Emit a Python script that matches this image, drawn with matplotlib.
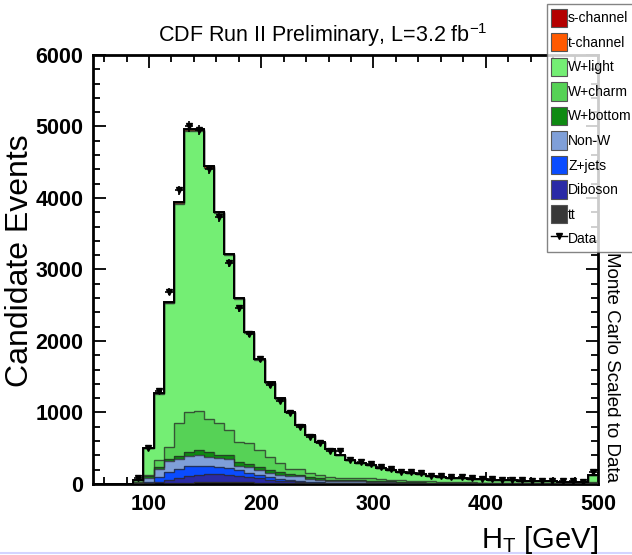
import numpy as np
import matplotlib
matplotlib.use("Agg")
import matplotlib.pyplot as plt
from matplotlib.patches import Patch
from matplotlib.lines import Line2D

plt.rcParams["font.family"] = ["Liberation Sans", "DejaVu Sans"]

# 50 bins of 9 GeV from 50 to 500 GeV
bin_edges = np.arange(50, 501, 9)

tt = [0, 0, 0, 0, 0, 2, 5, 10, 15, 20, 25, 25, 25, 25, 25, 22, 20, 18, 15, 12,
      10, 8, 7, 5, 5, 4, 4, 3, 3, 3, 2, 2, 2, 2, 2, 1, 1, 1, 1, 1,
      1, 1, 1, 1, 1, 1, 1, 1, 1, 3]
diboson = [0, 0, 0, 0, 2, 8, 25, 50, 75, 90, 105, 115, 115, 105, 90, 73, 60, 42, 30, 23,
           15, 12, 8, 7, 5, 5, 4, 4, 3, 2, 3, 2, 2, 1, 1, 2, 2, 1, 1, 1,
           0, 0, 0, 0, 0, 0, 0, 0, 0, 0]
zjets = [0, 0, 0, 0, 3, 20, 70, 105, 125, 135, 125, 110, 100, 90, 75, 65, 50, 40, 30, 20,
         15, 10, 10, 8, 7, 6, 5, 4, 4, 4, 3, 3, 2, 2, 2, 1, 1, 1, 1, 1,
         1, 1, 1, 1, 0, 0, 0, 0, 0, 2]
non_w = [0, 0, 0, 0, 10, 60, 105, 155, 135, 145, 150, 130, 120, 125, 65, 75, 70, 55, 55, 50,
         70, 45, 35, 25, 23, 23, 22, 19, 16, 13, 12, 10, 9, 8, 6, 6, 5, 5, 4, 3,
         3, 3, 2, 2, 2, 2, 2, 2, 1, 5]
w_bottom = [0, 0, 0, 0, 5, 20, 35, 30, 45, 50, 65, 60, 50, 55, 55, 45, 40, 45, 40, 35,
            20, 25, 20, 15, 15, 12, 15, 15, 14, 13, 10, 9, 7, 7, 7, 6, 5, 4, 4, 4,
            4, 3, 3, 2, 3, 2, 2, 1, 2, 5]
w_charm = [0, 0, 0, 0, 10, 20, 96, 172, 454, 570, 555, 465, 439, 355, 282, 288, 236, 173, 119, 65,
           75, 50, 40, 35, 35, 35, 40, 40, 30, 25, 20, 19, 18, 15, 12, 12, 11, 10, 9, 8,
           7, 6, 6, 6, 5, 5, 4, 4, 3, 15]
w_light = [0, 0, 0, 0, 30, 368, 927, 2004, 3070, 3922, 3907, 3517, 2936, 2444, 1991, 1548, 1258, 1038, 904, 799,
           616, 531, 469, 392, 318, 254, 209, 182, 159, 136, 118, 105, 95, 83, 72, 62, 55, 50, 45, 40,
           38, 36, 32, 30, 27, 25, 23, 22, 21, 100]
t_channel = [0, 0, 0, 0, 0, 2, 5, 10, 15, 20, 20, 20, 18, 15, 12, 10, 8, 6, 5, 4,
             3, 3, 2, 2, 2, 1, 1, 1, 1, 0, 0, 0, 0, 0, 0, 0, 0, 0, 0, 0,
             0, 0, 0, 0, 0, 0, 0, 0, 0, 0]
s_channel = [0, 0, 0, 0, 0, 0, 2, 4, 6, 8, 8, 8, 7, 6, 5, 4, 3, 3, 2, 2,
             1, 1, 1, 1, 0, 0, 0, 0, 0, 0, 0, 0, 0, 0, 0, 0, 0, 0, 0, 0,
             0, 0, 0, 0, 0, 0, 0, 0, 0, 0]

data = [0, 0, 0, 0, 90, 500, 1300, 2690, 4110, 5000, 4950, 4400, 3730, 3090, 2460, 2100, 1750, 1385, 1165, 990,
        790, 660, 570, 462, 455, 330, 303, 280, 233, 205, 163, 163, 150, 117, 117, 93, 93, 80, 75, 70,
        60, 55, 50, 45, 40, 40, 35, 35, 30, 170]

# stacking order, bottom to top
stack = [
    ("tt", tt, "#383838"),
    ("Diboson", diboson, "#2b2ba6"),
    ("Z+jets", zjets, "#0a4cff"),
    ("Non-W", non_w, "#7f9fd8"),
    ("W+bottom", w_bottom, "#0e8a12"),
    ("W+charm", w_charm, "#56d256"),
    ("W+light", w_light, "#74ee74"),
    ("t-channel", t_channel, "#ff5a00"),
    ("s-channel", s_channel, "#b40000"),
]
legend_order = ["s-channel", "t-channel", "W+light", "W+charm", "W+bottom",
                "Non-W", "Z+jets", "Diboson", "tt"]

fig = plt.figure(figsize=(6.32, 5.55), dpi=100)
ax = fig.add_axes([0.147, 0.128, 0.799, 0.773])

bottom = np.zeros(len(bin_edges) - 1)
for name, vals, color in stack:
    vals = np.asarray(vals, dtype=float)
    top = bottom + vals
    ax.stairs(top, bin_edges, baseline=bottom, fill=True, color=color, lw=0, zorder=2)
    ax.stairs(top, bin_edges, baseline=None, color="#2a2a2a", lw=1.0, alpha=0.75, zorder=3)
    bottom = top
ax.stairs(bottom, bin_edges, baseline=None, color="black", lw=1.4, zorder=4)

# data points
data = np.asarray(data, dtype=float)
centers = 0.5 * (bin_edges[:-1] + bin_edges[1:])
mask = data > 0
ax.errorbar(centers[mask], data[mask], yerr=np.sqrt(data[mask]), xerr=3.5,
            fmt="v", color="black", ms=5, elinewidth=1.2, capsize=0, zorder=5)

ax.set_xlim(50, 500)
ax.set_ylim(0, 6000)
ax.set_xticks([100, 200, 300, 400, 500])
ax.set_xticks(np.arange(60, 500, 20), minor=True)
ax.set_yticks(np.arange(0, 6001, 1000))
ax.set_yticks(np.arange(0, 6000, 200), minor=True)
ax.tick_params(which="both", direction="in", top=True, right=True, width=1.3)
ax.tick_params(which="major", length=9, labelsize=15.5, pad=7)
ax.tick_params(which="minor", length=5)
for lab in ax.get_xticklabels() + ax.get_yticklabels():
    lab.set_fontweight("bold")
for spine in ax.spines.values():
    spine.set_linewidth(2)

fig.text(0.51, 0.937, r"CDF Run II Preliminary, L=3.2 fb$^{\mathregular{-1}}$",
         ha="center", va="center", fontsize=15.5)
fig.text(0.032, 0.53, "Candidate Events", rotation=90, ha="center", va="center", fontsize=23)
fig.text(0.947, 0.027, r"H$_{\mathregular{T}}$ [GeV]", ha="right", va="center", fontsize=21)
fig.text(0.968, 0.338, "Monte Carlo Scaled to Data", rotation=-90, ha="center", va="center",
         fontsize=13.5)

colors = {name: color for name, _, color in stack}
handles = [Patch(facecolor=colors[n], edgecolor="#555555", lw=0.8) for n in legend_order]
handles.append(Line2D([], [], color="black", marker="v", ms=4, lw=1))
labels = legend_order + ["Data"]
leg = fig.legend(handles, labels, loc="upper left", bbox_to_anchor=(0.866, 0.992),
                 fontsize=10, frameon=True, fancybox=False, borderpad=0.3,
                 handlelength=1.1, handleheight=1.65, handletextpad=0.1,
                 labelspacing=0.45, borderaxespad=0)
leg.get_frame().set_edgecolor("#666666")
leg.get_frame().set_linewidth(1)

fig.add_artist(Line2D([0, 1], [0.004, 0.004], color="#d4d4ff", lw=1.5))

fig.savefig("out.png", dpi=100)
